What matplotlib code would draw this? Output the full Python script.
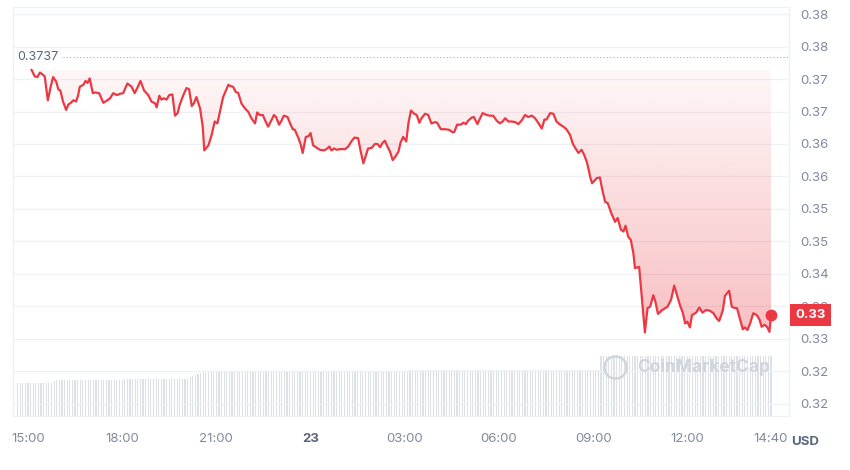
import numpy as np
import matplotlib
matplotlib.use("Agg")
import matplotlib.pyplot as plt
import matplotlib.transforms as mtransforms
from matplotlib.colors import to_rgb

plt.rcParams['font.family'] = ['Inter', 'DejaVu Sans']

RED = '#ea3943'

# minutes after 15:00 (day 22) and price in USD
times = [7, 13, 18, 23, 28, 32, 38, 43, 48, 54, 58, 62, 67, 73, 77, 82, 87, 92, 96, 99,
         106, 110, 114, 118, 124, 128, 136, 144, 150, 157, 163, 170, 176, 182, 190, 198, 204, 209, 215, 222,
         230, 236, 243, 246, 251, 255, 260, 265, 270, 276, 281, 286, 290, 297, 303, 308, 313, 317, 322, 329,
         334, 337, 345, 351, 357, 362, 367,
         373, 383, 387, 392, 397, 402, 408, 415, 421, 427, 434, 438, 443, 449, 453, 459, 466, 470, 474, 480,
         485, 489, 496, 501, 506, 510, 517, 521, 525, 531, 536, 540, 545, 552, 558, 566, 572, 576, 580, 585,
         590, 596, 606, 612, 619, 624, 631, 636, 641, 646, 650, 657, 663, 668, 673, 678, 682, 687, 692, 697,
         701, 708, 712, 717, 723, 727, 732,
         738, 743, 748, 752, 759, 765, 771, 778, 782, 789, 797, 805, 812, 815, 820, 827, 832, 837, 841, 848,
         852, 859, 864, 869, 877, 883, 889, 896, 902, 907, 912, 918, 924, 931, 937, 943, 950, 956, 963, 969,
         975, 982, 987, 991, 998, 1004, 1010, 1017, 1023, 1029, 1036, 1041, 1045, 1052, 1058, 1063, 1068, 1071,
         1075, 1078, 1087, 1093, 1097, 1103, 1108, 1115, 1122, 1127, 1133, 1138, 1142, 1147, 1152, 1157, 1160,
         1168, 1173, 1179, 1184, 1189, 1195, 1199, 1204, 1212, 1222, 1229, 1235, 1241, 1247, 1251, 1256, 1260,
         1265, 1269, 1277, 1283, 1289, 1296, 1303, 1310, 1316, 1321, 1328, 1332, 1340, 1345, 1351, 1355, 1361,
         1366, 1370, 1375, 1380, 1386, 1393, 1398, 1402, 1408, 1413, 1417, 1420]

prices = [0.3717, 0.3707, 0.3706, 0.3713, 0.3710, 0.3707, 0.3670, 0.3689, 0.3706, 0.3699,
          0.3687, 0.3685, 0.3668, 0.3655, 0.3663, 0.3666, 0.3670, 0.3668, 0.3678, 0.3691,
          0.3694, 0.3700, 0.3697, 0.3704, 0.3681, 0.3682, 0.3681, 0.3666, 0.3669, 0.3673,
          0.3681, 0.3678, 0.3680, 0.3681, 0.3696, 0.3691, 0.3681, 0.3689, 0.3700, 0.3685,
          0.3678, 0.3668, 0.3665, 0.3659, 0.3677, 0.3671, 0.3673, 0.3671, 0.3678, 0.3679,
          0.3646, 0.3650, 0.3663, 0.3678, 0.3689, 0.3687, 0.3661, 0.3665, 0.3675, 0.3657,
          0.3629, 0.3592, 0.3600, 0.3616, 0.3637, 0.3634, 0.3653,
          0.3675, 0.3694, 0.3692, 0.3691, 0.3683, 0.3681, 0.3665, 0.3657, 0.3652, 0.3642,
          0.3634, 0.3651, 0.3647, 0.3647, 0.3639, 0.3629, 0.3640, 0.3647, 0.3644, 0.3632,
          0.3639, 0.3646, 0.3644, 0.3634, 0.3625, 0.3624, 0.3611, 0.3602, 0.3588, 0.3613,
          0.3614, 0.3619, 0.3600, 0.3596, 0.3593, 0.3592, 0.3595, 0.3598, 0.3592, 0.3595,
          0.3593, 0.3594, 0.3594, 0.3598, 0.3607, 0.3612, 0.3611, 0.3590, 0.3572, 0.3585,
          0.3595, 0.3596, 0.3602, 0.3602, 0.3597, 0.3604, 0.3607, 0.3598, 0.3590, 0.3577,
          0.3581, 0.3590, 0.3604, 0.3613, 0.3606, 0.3634, 0.3654,
          0.3649, 0.3647, 0.3635, 0.3642, 0.3649, 0.3647, 0.3634, 0.3636, 0.3635, 0.3625,
          0.3625, 0.3624, 0.3620, 0.3621, 0.3632, 0.3632, 0.3635, 0.3633, 0.3638, 0.3643,
          0.3644, 0.3633, 0.3642, 0.3650, 0.3647, 0.3646, 0.3646, 0.3638, 0.3634, 0.3637,
          0.3642, 0.3637, 0.3637, 0.3636, 0.3633, 0.3638, 0.3647, 0.3644, 0.3646, 0.3642,
          0.3635, 0.3626, 0.3640, 0.3640, 0.3650, 0.3649, 0.3637, 0.3632, 0.3629, 0.3625,
          0.3616, 0.3603, 0.3597, 0.3588, 0.3593, 0.3585, 0.3574, 0.3564,
          0.3549, 0.3541, 0.3549, 0.3550, 0.3533, 0.3512, 0.3510, 0.3494, 0.3481, 0.3487,
          0.3469, 0.3466, 0.3475, 0.3458, 0.3453, 0.3432, 0.3409, 0.3411, 0.3365, 0.3309,
          0.3347, 0.3349, 0.3367, 0.3357, 0.3338, 0.3344, 0.3349, 0.3360, 0.3382, 0.3365,
          0.3349, 0.3341, 0.3323, 0.3326, 0.3317, 0.3336, 0.3340, 0.3348, 0.3340, 0.3344,
          0.3343, 0.3339, 0.3331, 0.3327, 0.3344, 0.3366, 0.3374, 0.3349, 0.3347, 0.3347,
          0.3329, 0.3314, 0.3317, 0.3313, 0.3323, 0.3339, 0.3336, 0.3329, 0.3318, 0.3321,
          0.3317, 0.3310, 0.3336]

# volume (arbitrary units), one bar every 5 minutes, given as level / run length
vol_levels = [3.25, 3.45, 3.55, 3.6, 3.7, 3.9, 4.0, 4.1, 4.2, 4.3, 4.35, 4.45, 4.6, 6.0]
vol_runs = [14, 1, 1, 25, 25, 1, 1, 1, 1, 1, 1, 78, 73, 66]
vol_start = -20

high_price = 0.3737
last_label = '0.33'

y_tick_labels = ['0.38', '0.38', '0.37', '0.37', '0.36', '0.36', '0.35',
                 '0.35', '0.34', '0.33', '0.33', '0.32', '0.32']
y_tick_top = 0.3804
y_tick_step = 0.00505

x_tick_minutes = [0, 180, 360, 540, 720, 900, 1080, 1260, 1420]
x_tick_labels = ['15:00', '18:00', '21:00', '23', '03:00', '06:00', '09:00', '12:00', '14:40']

volume = np.repeat(vol_levels, vol_runs)
vol_times = vol_start + 5 * np.arange(len(volume))

fig = plt.figure(figsize=(8.5, 4.7), dpi=100)
ax = fig.add_axes([0.0149, 0.1149, 0.9133, 0.8702])
ax2 = ax.twinx()
ax.set_zorder(2)
ax.patch.set_visible(False)
ax2.set_zorder(1)

# volume bars
ax2.bar(vol_times, volume, width=2.2, color='#dce0e7', linewidth=0)
ax2.set_ylim(0, 40.9)
ax2.set_yticks([])
for s in ax2.spines.values():
    s.set_visible(False)

# gradient fill between price and opening level
base = prices[0]
poly = ax.fill_between(times, prices, base, facecolor='none', edgecolor='none')
grad = np.zeros((256, 1, 4))
grad[..., :3] = to_rgb(RED)
grad[:, 0, 3] = np.linspace(0.32, 0.04, 256)
im = ax.imshow(grad, extent=[times[0], times[-1], min(prices), base], origin='lower',
               aspect='auto', zorder=3, interpolation='bilinear')
im.set_clip_path(poly.get_paths()[0], transform=ax.transData)

ax.plot(times, prices, color=RED, lw=1.6, solid_joinstyle='round', zorder=4)
ax.plot(times[-1], prices[-1], 'o', ms=7.5, color=RED, zorder=5, clip_on=False)

# high marker
ax.axhline(high_price, color='#a6adbd', lw=0.8, ls=(0, (1, 2)), zorder=2)
blend = mtransforms.blended_transform_factory(ax.transAxes, ax.transData)
ax.text(0.0055, high_price, f'{high_price:.4f}', transform=blend, ha='left', va='center',
        fontsize=9, color='#58667e', zorder=6,
        bbox=dict(boxstyle='square,pad=0.2', fc='white', ec='none'))

# last price tag
ax.text(1.0085, prices[-1], last_label, transform=blend, ha='left', va='center',
        fontsize=9.5, fontweight='bold', color='white', zorder=10, clip_on=False,
        bbox=dict(boxstyle='square,pad=0.4', fc=RED, ec='none'))

# watermark
ax.plot(0.776, 0.12, marker='o', ms=16, mfc='none', mec='#d0d4db', mew=1.8,
        transform=ax.transAxes, zorder=1)
ax.text(0.804, 0.12, 'CoinMarketCap', transform=ax.transAxes, fontsize=12.5,
        fontweight='bold', color='#d0d4db', va='center', ha='left', zorder=1)

ax.set_xlim(-29.2, 1454.3)
ax.set_ylim(0.31793, 0.38149)

yt = [y_tick_top - k * y_tick_step for k in range(len(y_tick_labels))]
ax.yaxis.tick_right()
ax.set_yticks(yt)
ax.set_yticklabels(y_tick_labels)
ax.tick_params(axis='y', length=0, pad=8, labelcolor='#808a9d', labelsize=9.5)
ax.yaxis.grid(True, color='#eff2f5', lw=1)
ax.set_axisbelow(True)

ax.set_xticks(x_tick_minutes)
ax.set_xticklabels(x_tick_labels)
ax.tick_params(axis='x', length=0, pad=12, labelcolor='#808a9d', labelsize=9.5)
for lab in ax.get_xticklabels():
    if lab.get_text() == '23':
        lab.set_fontweight('bold')
        lab.set_color('#58667e')

for s in ax.spines.values():
    s.set_color('#eff2f5')
    s.set_linewidth(1)

fig.text(805 / 850, 1 - 442 / 470, 'USD', ha='center', va='center', fontsize=9.5,
         fontweight='bold', color='#58667e')

fig.savefig('out.png', dpi=100, facecolor='white')
